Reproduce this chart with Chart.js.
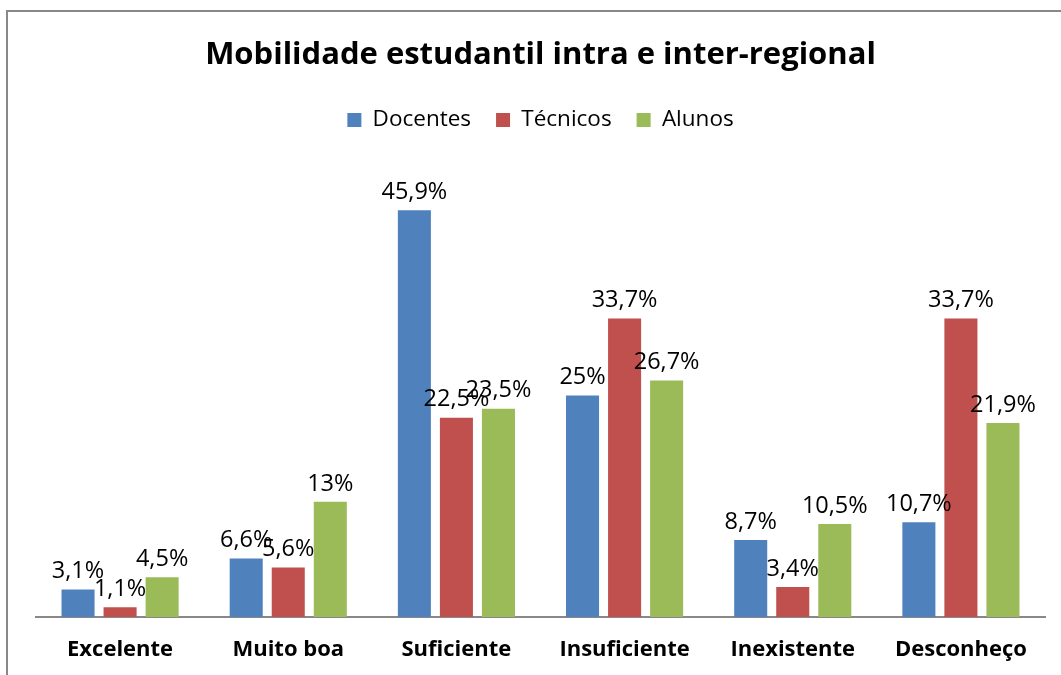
<!DOCTYPE html>
<html>
<head>
<meta charset="utf-8">
<script src="https://cdn.jsdelivr.net/npm/chart.js@4"></script>
<style>
  html, body { margin: 0; padding: 0; background: #ffffff; }
  #wrap { position: relative; width: 1061px; height: 675px; }
</style>
</head>
<body>
<div id="wrap"><canvas id="c" width="1061" height="675"></canvas></div>
<script>
const titleText = 'Mobilidade estudantil intra e inter-regional';
const categories = ['Excelente', 'Muito boa', 'Suficiente', 'Insuficiente', 'Inexistente', 'Desconheço'];
const seriesNames = ['Docentes', 'Técnicos', 'Alunos'];
const docentes = [3.1, 6.6, 45.9, 25, 8.7, 10.7];
const tecnicos = [1.1, 5.6, 22.5, 33.7, 3.4, 33.7];
const alunos = [4.5, 13, 23.5, 26.7, 10.5, 21.9];
const colors = ['#4F81BD', '#C0504D', '#9BBB59'];

const FONT = "'Open Sans', Lato, 'DejaVu Sans', sans-serif";

function fmt(v) {
  return String(v).replace('.', ',') + '%';
}

const frame = {
  id: 'frame',
  beforeDraw(chart) {
    const ctx = chart.ctx;
    ctx.save();
    ctx.fillStyle = '#ffffff';
    ctx.fillRect(0, 0, chart.width, chart.height);
    ctx.strokeStyle = '#888888';
    ctx.lineWidth = 2;
    ctx.beginPath();
    ctx.moveTo(7, chart.height + 5);
    ctx.lineTo(7, 11);
    ctx.lineTo(chart.width + 5, 11);
    ctx.stroke();
    ctx.restore();
  }
};

const legendSpace = {
  id: 'legendSpace',
  beforeInit(chart) {
    const orig = chart.legend.fit;
    chart.legend.fit = function () {
      orig.bind(chart.legend)();
      this.height += 32.75;
    };
  }
};

const valueLabels = {
  id: 'valueLabels',
  afterDatasetsDraw(chart) {
    const ctx = chart.ctx;
    ctx.save();
    ctx.font = '23.5px ' + FONT;
    ctx.fillStyle = '#000000';
    ctx.textAlign = 'center';
    ctx.textBaseline = 'middle';
    chart.data.datasets.forEach((ds, di) => {
      const meta = chart.getDatasetMeta(di);
      meta.data.forEach((bar, i) => {
        ctx.fillText(fmt(ds.data[i]), bar.x, bar.y - 18);
      });
    });
    ctx.restore();
  }
};

new Chart(document.getElementById('c'), {
  type: 'bar',
  data: {
    labels: categories,
    datasets: [
      { label: seriesNames[0], data: docentes, backgroundColor: colors[0] },
      { label: seriesNames[1], data: tecnicos, backgroundColor: colors[1] },
      { label: seriesNames[2], data: alunos, backgroundColor: colors[2] }
    ]
  },
  options: {
    responsive: false,
    animation: false,
    devicePixelRatio: 1,
    categoryPercentage: 0.75,
    barPercentage: 0.786,
    layout: { padding: { left: 36, right: 16, top: 0, bottom: -8.4 } },
    scales: {
      x: {
        grid: { display: false, drawTicks: false },
        border: { display: true, color: '#888888', width: 2 },
        ticks: {
          color: '#000000',
          padding: 20,
          font: { family: FONT, size: 22, weight: 'bold', lineHeight: 1.2 }
        }
      },
      y: {
        display: false,
        min: 0,
        max: 50
      }
    },
    plugins: {
      title: {
        display: true,
        text: titleText,
        color: '#000000',
        font: { family: FONT, size: 31, weight: 'bold', lineHeight: 1.2 },
        padding: { top: 36.4, bottom: 10.15 }
      },
      legend: {
        display: true,
        position: 'top',
        labels: {
          color: '#000000',
          boxWidth: 14,
          boxHeight: 14,
          padding: 25,
          font: { family: FONT, size: 22.5 }
        }
      },
      tooltip: { enabled: false }
    }
  },
  plugins: [frame, legendSpace, valueLabels]
});
</script>
</body>
</html>
